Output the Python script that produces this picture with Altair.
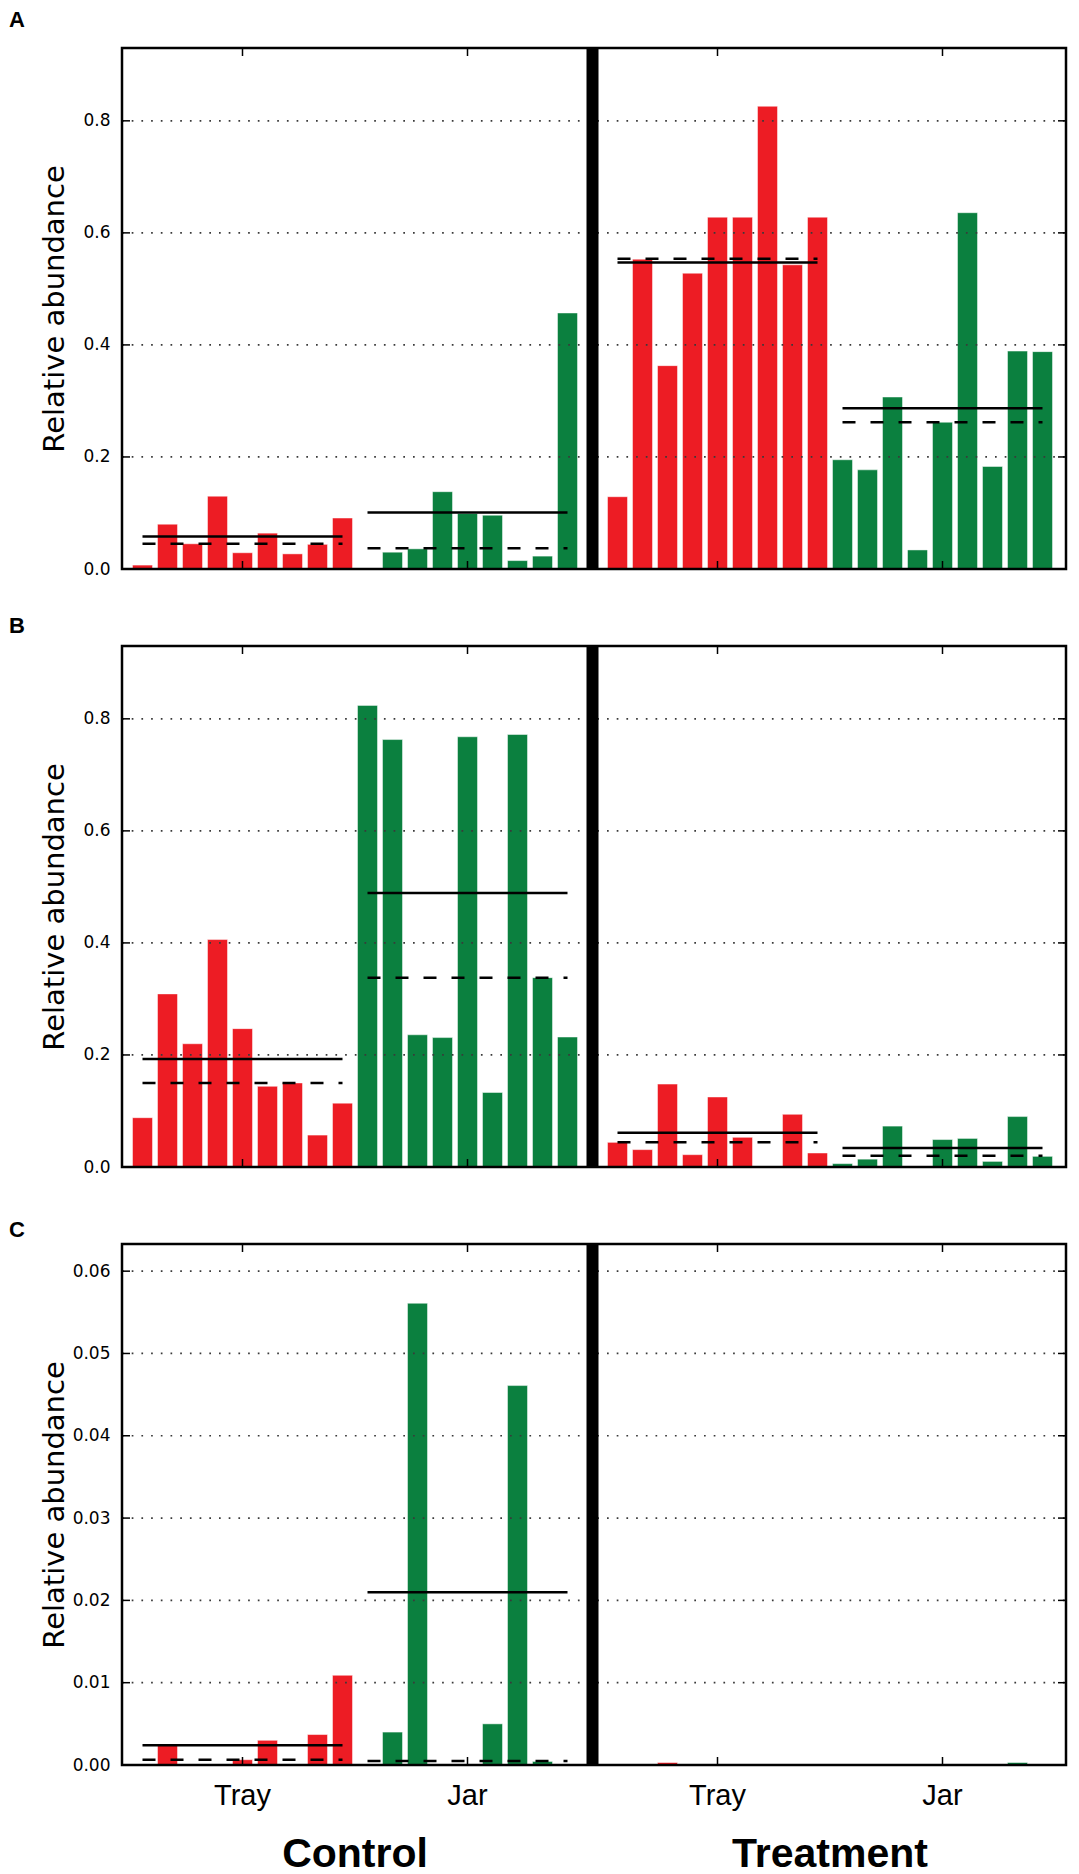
import altair as alt
import pandas as pd

treatments = ["Control", "Treatment"]
vessels = ["Tray", "Jar"]

# Panel A - relative abundance per sample (9 samples per group)
a_control_tray = [0.007, 0.080, 0.045, 0.130, 0.029, 0.064, 0.027, 0.044, 0.091]
a_control_jar = [0.0, 0.030, 0.036, 0.138, 0.099, 0.096, 0.015, 0.023, 0.457]
a_treatment_tray = [0.129, 0.553, 0.363, 0.528, 0.628, 0.628, 0.826, 0.543, 0.628]
a_treatment_jar = [0.195, 0.177, 0.307, 0.034, 0.262, 0.636, 0.183, 0.389, 0.388]
a_mean = [0.058, 0.101, 0.547, 0.287]
a_median = [0.045, 0.037, 0.554, 0.262]

# Panel B
b_control_tray = [0.088, 0.309, 0.220, 0.406, 0.247, 0.144, 0.150, 0.057, 0.114]
b_control_jar = [0.824, 0.763, 0.236, 0.231, 0.768, 0.133, 0.772, 0.338, 0.232]
b_treatment_tray = [0.044, 0.031, 0.148, 0.022, 0.125, 0.053, 0.0, 0.094, 0.025]
b_treatment_jar = [0.006, 0.014, 0.073, 0.0, 0.049, 0.051, 0.010, 0.090, 0.019]
b_mean = [0.193, 0.489, 0.061, 0.034]
b_median = [0.150, 0.338, 0.044, 0.020]

# Panel C
c_control_tray = [0.0, 0.00255, 0.0, 0.0, 0.00064, 0.0030, 0.0, 0.0037, 0.0109]
c_control_jar = [0.0, 0.0040, 0.0561, 0.0, 0.0, 0.0050, 0.0461, 0.00043, 0.0]
c_treatment_tray = [0.0, 0.0, 0.0003, 0.0, 0.0, 0.0, 0.0, 0.00008, 0.00008]
c_treatment_jar = [0.0, 0.0, 0.0, 0.0, 0.0, 0.0, 0.0, 0.0003, 0.0]
c_mean = [0.0024, 0.0210, None, None]
c_median = [0.00065, 0.0005, None, None]

ab_ticks = [0.0, 0.2, 0.4, 0.6, 0.8]
c_ticks = [0.0, 0.01, 0.02, 0.03, 0.04, 0.05, 0.06]

RED = "#ED1C24"
GREEN = "#0B803F"
W, H = 944, 521
X_DOMAIN = [-0.82, 36.94]


def build_frames(series, means, medians):
    rows, lines = [], []
    slot = 0
    for ti, treat in enumerate(treatments):
        for vi, vessel in enumerate(vessels):
            k = ti * 2 + vi
            start = slot
            for v in series[k]:
                rows.append({"treat": treat, "vessel": vessel, "pos": slot, "value": v})
                slot += 1
            if means[k] is not None:
                lines.append({"treat": treat, "vessel": vessel, "start": start,
                              "end": slot - 1, "mean": means[k], "median": medians[k]})
        slot += 1  # empty slot where the divider sits
    return pd.DataFrame(rows), pd.DataFrame(lines)


def panel(letter, series, means, medians, ticks, ymax, fmt, letter_dy, bottom=False):
    bars_df, lines_df = build_frames(series, means, medians)
    xs = alt.Scale(domain=X_DOMAIN, nice=False, zero=False)
    ys = alt.Scale(domain=[0, ymax], nice=False)
    y_axis = alt.Axis(
        values=ticks, format=fmt, grid=False, domain=False, ticks=False, tickSize=0,
        labelFont="DejaVu Sans", labelFontSize=17, labelColor="black", labelPadding=12,
        title="Relative abundance", titleFont="DejaVu Sans", titleFontSize=29,
        titleFontWeight="normal", titleColor="black", titleX=-59, titleY=H / 2,
        titleAlign="center", titleBaseline="alphabetic")
    tick_df = pd.DataFrame({"t": ticks})
    one = pd.DataFrame({"letter": [letter]})

    last_ctrl = bars_df[bars_df.treat == "Control"].pos.max()
    first_trt = bars_df[bars_df.treat == "Treatment"].pos.min()
    div_df = pd.DataFrame({"d": [(last_ctrl + first_trt) / 2]})

    bars = alt.Chart(bars_df).transform_calculate(
        lo="datum.pos - 0.4", hi="datum.pos + 0.4"
    ).mark_rect(stroke="white", strokeWidth=0.8, strokeOpacity=0.6).encode(
        x=alt.X("lo:Q", scale=xs, axis=None),
        x2="hi:Q",
        y=alt.Y("value:Q", scale=ys, axis=y_axis),
        y2=alt.datum(0),
        color=alt.Color("vessel:N", scale=alt.Scale(domain=vessels, range=[RED, GREEN]), legend=None),
    )

    grid = alt.Chart(tick_df).transform_filter("datum.t > 0").mark_rule(
        color="#3a3a3a", strokeWidth=1.7, strokeDash=[1.7, 8]
    ).encode(y=alt.Y("t:Q", scale=ys, axis=y_axis), x=alt.value(0), x2=alt.value(W))

    mean_lines = alt.Chart(lines_df).mark_rule(color="black", strokeWidth=2.5).encode(
        x=alt.X("start:Q", scale=xs, axis=None), x2="end:Q",
        y=alt.Y("mean:Q", scale=ys, axis=y_axis))
    median_lines = alt.Chart(lines_df).mark_rule(
        color="black", strokeWidth=2.5, strokeDash=[13, 15]
    ).encode(x=alt.X("start:Q", scale=xs, axis=None), x2="end:Q",
             y=alt.Y("median:Q", scale=ys, axis=y_axis))

    centers = alt.Chart(bars_df).transform_aggregate(center="mean(pos)", groupby=["treat", "vessel"])
    xt_bottom = centers.mark_rule(color="black", strokeWidth=1.5).encode(
        x=alt.X("center:Q", scale=xs, axis=None), y=alt.value(H - 8), y2=alt.value(H))
    xt_top = centers.mark_rule(color="black", strokeWidth=1.5).encode(
        x=alt.X("center:Q", scale=xs, axis=None), y=alt.value(0), y2=alt.value(8))
    yt_left = alt.Chart(tick_df).mark_rule(color="black", strokeWidth=1.5).encode(
        y=alt.Y("t:Q", scale=ys, axis=y_axis), x=alt.value(0), x2=alt.value(8))
    yt_right = alt.Chart(tick_df).mark_rule(color="black", strokeWidth=1.5).encode(
        y=alt.Y("t:Q", scale=ys, axis=y_axis), x=alt.value(W - 8), x2=alt.value(W))

    divider = alt.Chart(div_df).mark_rule(color="black", strokeWidth=12).encode(
        x=alt.X("d:Q", scale=xs, axis=None), y=alt.value(0), y2=alt.value(H))

    frame = alt.Chart(one).mark_rect(filled=False, stroke="black", strokeWidth=2.5).encode(
        x=alt.value(0), x2=alt.value(W), y=alt.value(0), y2=alt.value(H))

    label = alt.Chart(one).mark_text(
        font="Liberation Sans", fontWeight="bold", fontSize=22, align="left", baseline="middle"
    ).encode(text="letter:N", x=alt.value(-113), y=alt.value(-letter_dy))

    layers = [bars, grid, mean_lines, median_lines, xt_bottom, xt_top, yt_left, yt_right,
              divider, frame, label]

    if bottom:
        vessel_text = centers.mark_text(
            font="Liberation Sans", fontSize=29, baseline="middle", color="black"
        ).encode(x=alt.X("center:Q", scale=xs, axis=None), y=alt.value(H + 31), text="vessel:N")
        treat_text = alt.Chart(bars_df).transform_aggregate(
            center="mean(pos)", groupby=["treat"]
        ).mark_text(
            font="Liberation Sans", fontWeight="bold", fontSize=41, baseline="alphabetic", color="black"
        ).encode(x=alt.X("center:Q", scale=xs, axis=None), y=alt.value(H + 102), text="treat:N")
        layers += [vessel_text, treat_text]

    return alt.layer(*layers).properties(width=W, height=H)


pa = panel("A", [a_control_tray, a_control_jar, a_treatment_tray, a_treatment_jar],
           a_mean, a_median, ab_ticks, 0.93, ".1f", 28)
pb = panel("B", [b_control_tray, b_control_jar, b_treatment_tray, b_treatment_jar],
           b_mean, b_median, ab_ticks, 0.93, ".1f", 20)
pc = panel("C", [c_control_tray, c_control_jar, c_treatment_tray, c_treatment_jar],
           c_mean, c_median, c_ticks, 0.0633, ".2f", 14, bottom=True)

chart = alt.vconcat(pa, pb, pc, spacing=77, bounds="flush").properties(
    padding=0
).configure_view(stroke=None).configure(background="white")

chart.save("out.html", embed_options={"renderer": "svg", "actions": False})
